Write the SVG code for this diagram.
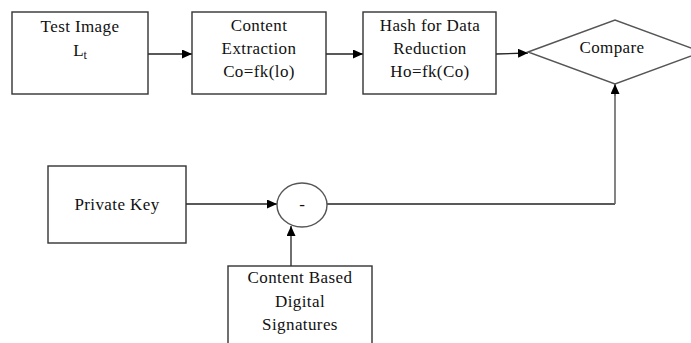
<svg xmlns="http://www.w3.org/2000/svg" width="691" height="343" viewBox="0 0 691 343">
<style>
.box{fill:#fff;stroke:#333;stroke-width:1.4}
.shape{fill:#fff;stroke:#555;stroke-width:1.4}
.ln{fill:none;stroke:#222;stroke-width:1.3}
.gl{fill:none;stroke:#666;stroke-width:1.6}
</style>
<defs>
<marker id="ah" markerUnits="userSpaceOnUse" markerWidth="11" markerHeight="9" refX="10" refY="4.5" orient="auto">
<path d="M0,0 L10,4.5 L0,9 Z" fill="#000"/>
</marker>
</defs>
<rect width="691" height="343" fill="#fff"/>
<g id="connectors">
<line class="ln" x1="148" y1="54" x2="192" y2="54" marker-end="url(#ah)"/>
<line class="ln" x1="326" y1="54" x2="363" y2="54" marker-end="url(#ah)"/>
<line class="ln" x1="496" y1="54" x2="528" y2="53" marker-end="url(#ah)"/>
<line class="ln" x1="186" y1="204" x2="277" y2="204" marker-end="url(#ah)"/>
<line class="ln" x1="291" y1="266" x2="291" y2="226" marker-end="url(#ah)"/>
<polyline class="ln" points="327,204 615,204"/>
<polyline class="gl" points="615,204 615,96"/>
<line class="ln" x1="615" y1="96" x2="615" y2="84" marker-end="url(#ah)"/>
</g>
<g id="test-image">
<rect class="box" x="12" y="12" width="136" height="82"/>
<text font-family="Liberation Serif" font-size="17" letter-spacing="0.4" text-anchor="middle" fill="#111" x="80" y="32">Test Image</text>
<text font-family="Liberation Serif" font-size="17" text-anchor="middle" fill="#111" x="80" y="56">L<tspan font-size="12" dy="3">t</tspan></text>
</g>
<g id="content-extraction">
<rect class="box" x="192" y="12" width="134" height="82"/>
<text font-family="Liberation Serif" font-size="17" letter-spacing="0.4" text-anchor="middle" fill="#111" x="259" y="31">Content</text>
<text font-family="Liberation Serif" font-size="17" letter-spacing="0.4" text-anchor="middle" fill="#111" x="259" y="54">Extraction</text>
<text font-family="Liberation Serif" font-size="17" letter-spacing="0.4" text-anchor="middle" fill="#111" x="259" y="77">Co=fk(lo)</text>
</g>
<g id="hash">
<rect class="box" x="363" y="12" width="133" height="82"/>
<text font-family="Liberation Serif" font-size="17" letter-spacing="0.4" text-anchor="middle" fill="#111" x="430" y="31">Hash for Data</text>
<text font-family="Liberation Serif" font-size="17" letter-spacing="0.4" text-anchor="middle" fill="#111" x="430" y="54">Reduction</text>
<text font-family="Liberation Serif" font-size="17" letter-spacing="0.4" text-anchor="middle" fill="#111" x="430" y="77">Ho=fk(Co)</text>
</g>
<g id="compare">
<polygon class="shape" points="528,52 615,20 702,52 615,84"/>
<text font-family="Liberation Serif" font-size="17" letter-spacing="0.4" text-anchor="middle" fill="#111" x="612" y="53">Compare</text>
</g>
<g id="private-key">
<rect class="box" x="48" y="166" width="138" height="77"/>
<text font-family="Liberation Serif" font-size="17" letter-spacing="0.4" text-anchor="middle" fill="#111" x="117" y="210">Private Key</text>
</g>
<g id="minus">
<ellipse class="shape" cx="302" cy="205" rx="25" ry="22"/>
<text font-family="Liberation Serif" font-size="17" text-anchor="middle" fill="#111" x="302" y="210">-</text>
</g>
<g id="signatures">
<rect class="box" x="228" y="266" width="144" height="90"/>
<text font-family="Liberation Serif" font-size="17" letter-spacing="0.4" text-anchor="middle" fill="#111" x="300" y="283">Content Based</text>
<text font-family="Liberation Serif" font-size="17" letter-spacing="0.4" text-anchor="middle" fill="#111" x="300" y="307">Digital</text>
<text font-family="Liberation Serif" font-size="17" letter-spacing="0.4" text-anchor="middle" fill="#111" x="300" y="330">Signatures</text>
</g>
</svg>
